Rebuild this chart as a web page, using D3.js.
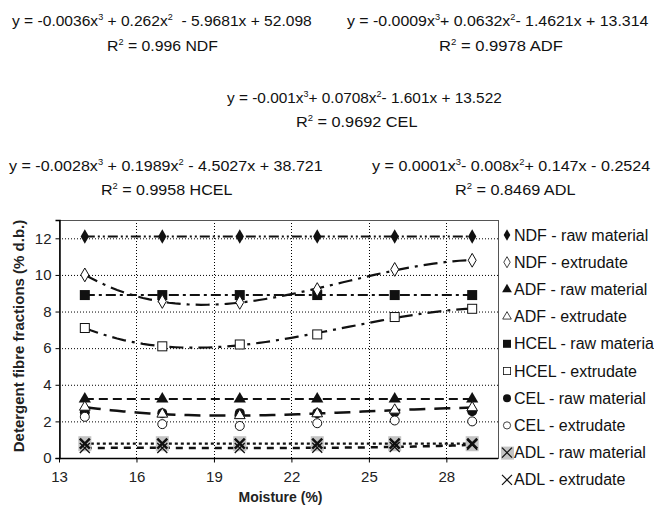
<!DOCTYPE html>
<html>
<head>
<meta charset="utf-8">
<script src="https://cdn.jsdelivr.net/npm/d3@7"></script>
<style>
  html, body { margin: 0; padding: 0; background: #fff; }
  svg { display: block; font-family: "Liberation Sans", Arial, sans-serif; }
</style>
</head>
<body>
<svg id="chart" width="654" height="509"></svg>
<script>
// Moisture levels of the samples (%)
const moisture = [14, 17, 20, 23, 26, 29];

// Fibre fractions (% d.b.)
const ndfRaw = [12.1, 12.1, 12.1, 12.1, 12.1, 12.1];
const ndfExt = [10.0, 8.55, 8.5, 9.2, 10.3, 10.8];
const adfRaw = [3.22, 3.22, 3.22, 3.22, 3.22, 3.22];
const adfExt = [2.78, 2.4, 2.32, 2.42, 2.62, 2.75];
const hcelRaw = [8.9, 8.9, 8.9, 8.9, 8.9, 8.9];
const hcelExt = [7.1, 6.1, 6.2, 6.75, 7.7, 8.15];
const celRaw = [2.5, 2.45, 2.45, 2.45, 2.5, 2.55];
const celExt = [2.25, 1.85, 1.75, 1.9, 2.05, 2.0];
const adlRaw = [0.78, 0.78, 0.78, 0.78, 0.78, 0.78];
const adlExt = [0.55, 0.55, 0.55, 0.56, 0.6, 0.72];

const xTicks = [13, 16, 19, 22, 25, 28];
const yTicks = [0, 2, 4, 6, 8, 10, 12];

const legendLabels = [
  "NDF - raw material", "NDF - extrudate",
  "ADF - raw material", "ADF - extrudate",
  "HCEL - raw material", "HCEL - extrudate",
  "CEL - raw material", "CEL - extrudate",
  "ADL - raw material", "ADL - extrudate"
];

// Regression equations printed above the plot (superscripts at odd positions)
const eqNDF = ["y = -0.0036x", "3", " + 0.262x", "2", "  - 5.9681x + 52.098"];
const eqADF = ["y = -0.0009x", "3", "+ 0.0632x", "2", "- 1.4621x + 13.314"];
const eqCEL = ["y = -0.001x", "3", "+ 0.0708x", "2", "- 1.601x + 13.522"];
const eqHCEL = ["y = -0.0028x", "3", " + 0.1989x", "2", " - 4.5027x + 38.721"];
const eqADL = ["y = 0.0001x", "3", "- 0.008x", "2", "+ 0.147x - 0.2524"];
const r2NDF = ["R", "2", " = 0.996 NDF"];
const r2ADF = ["R", "2", " = 0.9978 ADF"];
const r2CEL = ["R", "2", " = 0.9692 CEL"];
const r2HCEL = ["R", "2", " = 0.9958 HCEL"];
const r2ADL = ["R", "2", " = 0.8469 ADL"];

const svg = d3.select("#chart");
const plot = { left: 59, right: 498, top: 220, bottom: 458 };

const x = d3.scaleLinear().domain([13, 30]).range([plot.left, plot.right]);
const y = d3.scaleLinear().domain([0, 13]).range([plot.bottom, plot.top]);

// ---- equation block: each line is fitted between a left and right edge ----
function writeLine(parts, x0, x1, base) {
  const t = svg.append("text").attr("x", x0).attr("y", base)
    .attr("fill", "#111").attr("font-size", 15.5).style("white-space", "pre");
  parts.forEach((p, i) => {
    const sup = i % 2 === 1;
    t.append("tspan")
      .attr("dy", sup ? -6 : (i > 0 ? 6 : 0))
      .attr("font-size", sup ? 9 : 15.5)
      .text(p);
  });
  const w = t.node().getBBox().width;
  const k = (x1 - x0) / w;
  t.attr("transform", `translate(${x0},0) scale(${k},1) translate(${-x0},0)`);
}
writeLine(eqNDF, 12, 312, 26);
writeLine(r2NDF, 107, 218, 51);
writeLine(eqADF, 347, 649, 26);
writeLine(r2ADF, 439, 563, 51);
writeLine(eqCEL, 227, 502, 103);
writeLine(r2CEL, 296, 418, 127);
writeLine(eqHCEL, 9, 323, 171);
writeLine(r2HCEL, 101, 233, 195);
writeLine(eqADL, 372, 651, 171);
writeLine(r2ADL, 455, 576, 195);

// ---- grid ----
const grid = svg.append("g").attr("stroke", "#000").attr("stroke-width", 1)
  .attr("stroke-dasharray", "1,2");
grid.selectAll("line.h").data(yTicks.filter(v => v > 0)).join("line")
  .attr("x1", plot.left).attr("x2", plot.right)
  .attr("y1", d => y(d) + 0.5).attr("y2", d => y(d) + 0.5);
grid.selectAll("line.v").data(xTicks.filter(v => v > 13)).join("line")
  .attr("y1", plot.top).attr("y2", plot.bottom)
  .attr("x1", d => Math.round(x(d)) + 0.5).attr("x2", d => Math.round(x(d)) + 0.5);

// plot frame
svg.append("rect").attr("x", plot.left + 0.5).attr("y", plot.top + 0.5)
  .attr("width", plot.right - plot.left).attr("height", plot.bottom - plot.top)
  .attr("fill", "none").attr("stroke", "#555").attr("stroke-width", 1);

// ---- axes ----
const yAxis = svg.append("g").attr("transform", `translate(${plot.left + 0.5},0)`)
  .call(d3.axisLeft(y).tickValues(yTicks).tickSize(4).tickPadding(4));
const xAxis = svg.append("g").attr("transform", `translate(0,${plot.bottom + 0.5})`)
  .call(d3.axisBottom(x).tickValues(xTicks).tickSize(4).tickPadding(9));
[xAxis, yAxis].forEach(a => {
  a.select(".domain").attr("stroke", "#000").attr("stroke-width", 1.5);
  a.selectAll(".tick line").attr("stroke", "#000");
  a.selectAll(".tick text").attr("font-size", 15).attr("fill", "#222")
    .attr("font-family", "Liberation Sans, Arial, sans-serif");
});
xAxis.select(".domain").attr("d", `M${plot.left},0H${plot.right}`);

svg.append("text").attr("x", (plot.left + plot.right) / 2 + 2).attr("y", 502)
  .attr("text-anchor", "middle").attr("font-weight", "bold").attr("font-size", 14)
  .attr("fill", "#222").text("Moisture (%)");
svg.append("text").attr("transform", `translate(24,${336}) rotate(-90)`)
  .attr("text-anchor", "middle").attr("font-weight", "bold").attr("font-size", 15)
  .attr("fill", "#222").text("Detergent fibre fractions (% d.b.)");

// ---- cubic least-squares trend ----
function cubicFit(xs, ys) {
  const m = d3.mean(xs);
  const n = 4;
  const A = Array.from({ length: n }, () => new Array(n + 1).fill(0));
  xs.forEach((xv, k) => {
    const u = xv - m;
    const pw = [1, u, u * u, u * u * u];
    for (let i = 0; i < n; i++) {
      for (let j = 0; j < n; j++) A[i][j] += pw[i] * pw[j];
      A[i][n] += pw[i] * ys[k];
    }
  });
  for (let c = 0; c < n; c++) {
    let p = c;
    for (let r = c + 1; r < n; r++) if (Math.abs(A[r][c]) > Math.abs(A[p][c])) p = r;
    [A[c], A[p]] = [A[p], A[c]];
    for (let r = 0; r < n; r++) {
      if (r === c) continue;
      const f = A[r][c] / A[c][c];
      for (let k = c; k <= n; k++) A[r][k] -= f * A[c][k];
    }
  }
  const co = A.map((row, i) => row[n] / row[i]);
  return xv => { const u = xv - m; return co[0] + co[1] * u + co[2] * u * u + co[3] * u * u * u; };
}

const line = d3.line().x(d => x(d[0])).y(d => y(d[1]));
const lines = svg.append("g").attr("fill", "none").attr("stroke", "#111");

function rawLine(vals, dash, w) {
  lines.append("path").datum(moisture.map((m, i) => [m, vals[i]]))
    .attr("d", line).attr("stroke-width", w).attr("stroke-dasharray", dash);
}
function trendLine(vals, dash, w) {
  const f = cubicFit(moisture, vals);
  const pts = d3.range(14, 29.001, 0.25).map(v => [v, f(v)]);
  lines.append("path").datum(pts).attr("d", line)
    .attr("stroke-width", w).attr("stroke-dasharray", dash);
}

rawLine(ndfRaw, "10,3,2,3,2,3", 2);
rawLine(hcelRaw, "10,4,3,4", 2);
rawLine(adfRaw, "9,5", 2);
rawLine(adlRaw, "3,3", 2.2);
trendLine(ndfExt, "14,6,3,6", 2.2);
trendLine(hcelExt, "14,6,3,6", 2.2);
trendLine(adfExt, "16,9", 2.5);
trendLine(adlExt, "7,6", 2.5);

// ---- markers ----
const sym = (type, size) => d3.symbol().type(type).size(size)();
const markerDefs = [
  { vals: ndfRaw, draw: g => g.append("path").attr("d", sym(d3.symbolDiamond, 60)).attr("fill", "#111") },
  { vals: ndfExt, draw: g => g.append("path").attr("d", sym(d3.symbolDiamond, 55)).attr("fill", "#fff").attr("stroke", "#111") },
  { vals: adfRaw, draw: g => g.append("path").attr("d", sym(d3.symbolTriangle, 65)).attr("fill", "#111") },
  { vals: adfExt, draw: g => g.append("path").attr("d", sym(d3.symbolTriangle, 50)).attr("fill", "#fff").attr("stroke", "#111") },
  { vals: hcelRaw, draw: g => g.append("rect").attr("x", -5).attr("y", -5).attr("width", 10).attr("height", 10).attr("fill", "#111") },
  { vals: hcelExt, draw: g => g.append("rect").attr("x", -4.5).attr("y", -4.5).attr("width", 9).attr("height", 9).attr("fill", "#fff").attr("stroke", "#111") },
  { vals: celRaw, draw: g => g.append("circle").attr("r", 5).attr("fill", "#111") },
  { vals: celExt, draw: g => g.append("circle").attr("r", 4.5).attr("fill", "#fff").attr("stroke", "#111") },
  { vals: adlRaw, draw: g => {
      g.append("rect").attr("x", -6.5).attr("y", -7.5).attr("width", 13).attr("height", 15).attr("fill", "#c4c4c4");
      g.append("path").attr("d", "M-5,-5L5,5M-5,5L5,-5").attr("stroke", "#111").attr("stroke-width", 2.5);
    } },
  { vals: adlExt, draw: g => g.append("path").attr("d", "M-5,-5L5,5M-5,5L5,-5").attr("stroke", "#111").attr("stroke-width", 1.3) }
];
const markerLayer = svg.append("g");
[8, 9, 6, 7, 2, 3, 4, 5, 0, 1].forEach(k => {
  const d = markerDefs[k];
  moisture.forEach((m, i) => {
    const g = markerLayer.append("g").attr("transform", `translate(${x(m)},${y(d.vals[i])})`);
    d.draw(g);
  });
});

// ---- legend ----
const legend = svg.append("g");
legendLabels.forEach((lab, i) => {
  const ly = 235 + i * 27.2;
  const g = legend.append("g").attr("transform", `translate(507,${ly})`);
  const md = markerDefs[i];
  if (i === 8) {
    g.append("rect").attr("x", -6).attr("y", -6).attr("width", 13).attr("height", 13).attr("fill", "#c4c4c4");
    g.append("path").attr("d", "M-5,-5L5,5M-5,5L5,-5").attr("stroke", "#111").attr("stroke-width", 1.3);
  } else if (i === 9) {
    g.append("path").attr("d", "M-5,-5L5,5M-5,5L5,-5").attr("stroke", "#111").attr("stroke-width", 1.2);
  } else {
    const mg = g.append("g").attr("transform", "scale(0.8)");
    md.draw(mg);
  }
  g.append("text").attr("x", 7).attr("y", 5.5).attr("font-size", 16).attr("fill", "#111").text(lab);
});
</script>
</body>
</html>
